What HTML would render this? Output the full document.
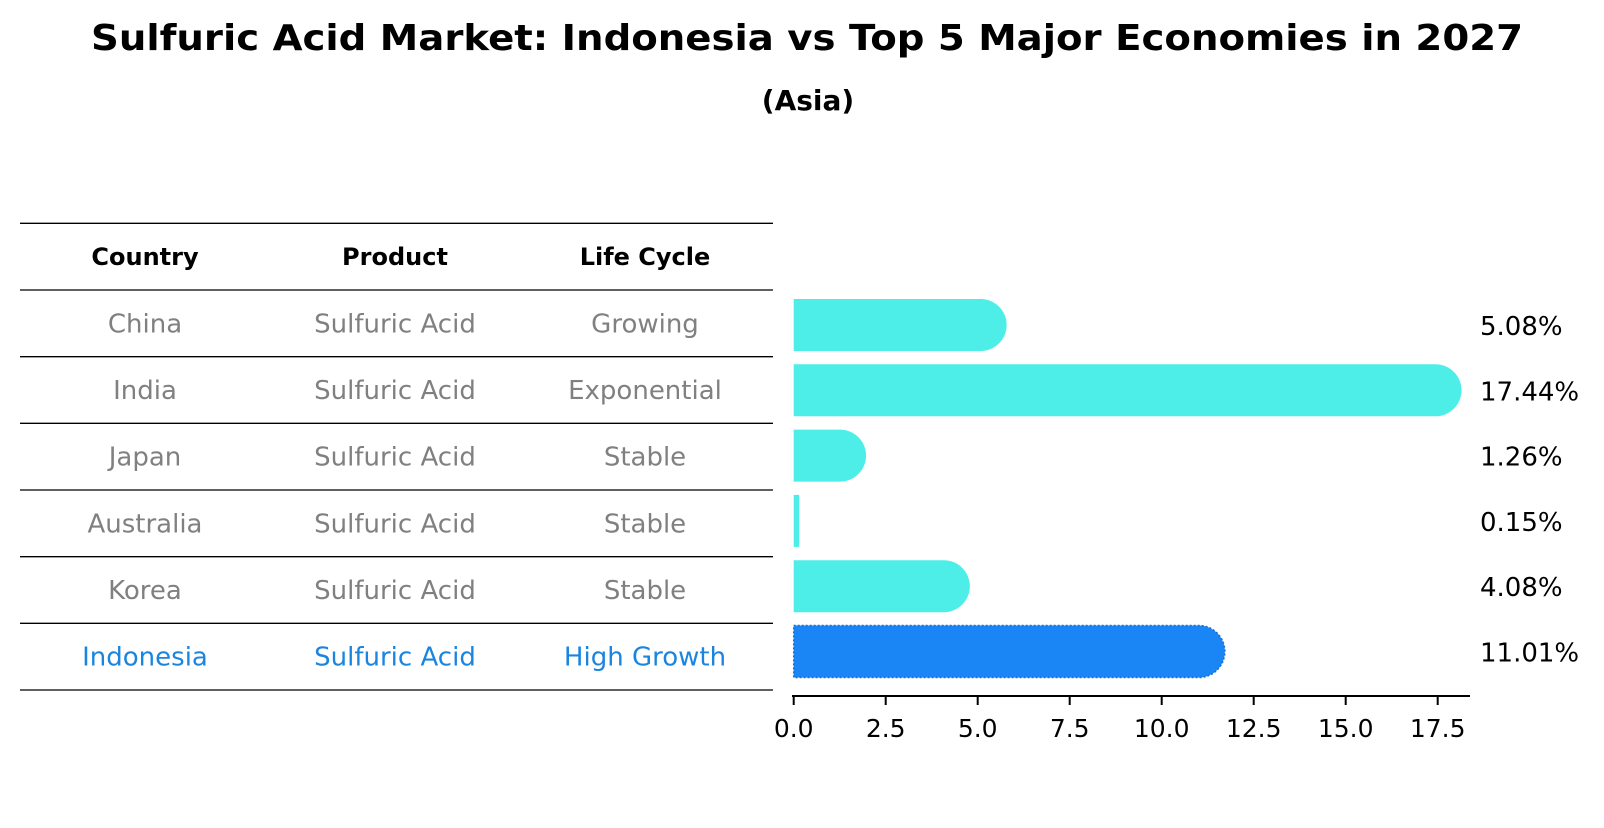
<!DOCTYPE html>
<html><head><meta charset="utf-8"><style>
body{margin:0;background:#fff;}
svg text{font-family:"DejaVu Sans","Liberation Sans",sans-serif;}
</style></head><body>
<svg id="chart" width="1604" height="823" viewBox="0 0 1604 823" xmlns="http://www.w3.org/2000/svg">
<text x="807" y="50" text-anchor="middle" font-size="36" font-weight="bold" textLength="1432" lengthAdjust="spacingAndGlyphs">Sulfuric Acid Market: Indonesia vs Top 5 Major Economies in 2027</text>
<text x="808" y="110" text-anchor="middle" font-size="28" font-weight="bold">(Asia)</text>
<g id="table"></g>
<g id="bars"></g>
</svg>
<script>
const countries = ["China","India","Japan","Australia","Korea","Indonesia"];
const products = ["Sulfuric Acid","Sulfuric Acid","Sulfuric Acid","Sulfuric Acid","Sulfuric Acid","Sulfuric Acid"];
const lifeCycles = ["Growing","Exponential","Stable","Stable","Stable","High Growth"];
const values = [5.08,17.44,1.26,0.15,4.08,11.01];
const valueLabels = ["5.08%","17.44%","1.26%","0.15%","4.08%","11.01%"];
const xTicks = [0,2.5,5,7.5,10,12.5,15,17.5];
const xTickLabels = ["0.0","2.5","5.0","7.5","10.0","12.5","15.0","17.5"];
const headers = ["Country","Product","Life Cycle"];

const NS="http://www.w3.org/2000/svg";
function mk(tag,attrs,parent){const e=document.createElementNS(NS,tag);for(const k in attrs)e.setAttribute(k,attrs[k]);parent.appendChild(e);return e;}
const table=document.getElementById('table');
const bars=document.getElementById('bars');
const x0=793.7, pxPer=36.8;
function xs(v){return x0+v*pxPer;}
const row0=325, rowStep=65.3;
function ys(i){return row0+i*rowStep;}

// table
const lineYs=[223.3,290,356.7,423.3,490,556.7,623.3,690];
const colX=[145,395,645];
lineYs.forEach((y,i)=>{
  const l=mk('line',{x1:20,x2:773,y1:y,y2:y,stroke:'#000','stroke-width':1.3},table);
  
  
});
headers.forEach((h,j)=>{
  const t=mk('text',{x:colX[j],y:265,'text-anchor':'middle','font-size':24,'font-weight':'bold',fill:'#000'},table);
  t.textContent=h;
  
  
});
countries.forEach((c,i)=>{
  const cy=(lineYs[i+1]+lineYs[i+2])/2+9;
  const col=(c==="Indonesia")?'#1a85e0':'#808080';
  [c,products[i],lifeCycles[i]].forEach((v,j)=>{
    const t=mk('text',{x:colX[j],y:cy,'text-anchor':'middle','font-size':26,fill:col},table);
    t.textContent=v;
    
    
  });
});

// bars
const bh=52;
values.forEach((v,i)=>{
  const cy=ys(i), top=cy-bh/2, xe=xs(v), w=xe-x0;
  const r=(w<bh/2)?0:bh/2;
  const hl=countries[i]==="Indonesia";
  const d=r>0?`M${x0},${top} H${xe} A${r},${r} 0 0 1 ${xe},${top+bh} H${x0} Z`:`M${x0},${top} H${xe} V${top+bh} H${x0} Z`;
  const p=mk('path',{d:d,fill:hl?'#1a85f5':'#4deee8',stroke:hl?'#1570d0':'none','stroke-width':hl?1.5:0,'stroke-dasharray':hl?'2,2':'none'},bars);
  
  
  const t=mk('text',{x:1480,y:cy+10,'font-size':26,fill:'#000'},bars);
  t.textContent=valueLabels[i];
  
  
});
// axis
const ax=mk('line',{x1:792,x2:1470,y1:696,y2:696,stroke:'#000','stroke-width':2},bars);


xTicks.forEach((v,i)=>{
  const tk=mk('line',{x1:xs(v),x2:xs(v),y1:696,y2:705,stroke:'#000','stroke-width':2},bars);
  
  
  const t=mk('text',{x:xs(v),y:737,'text-anchor':'middle','font-size':25,fill:'#000'},bars);
  t.textContent=xTickLabels[i];
  
  
});
</script>
</body></html>
